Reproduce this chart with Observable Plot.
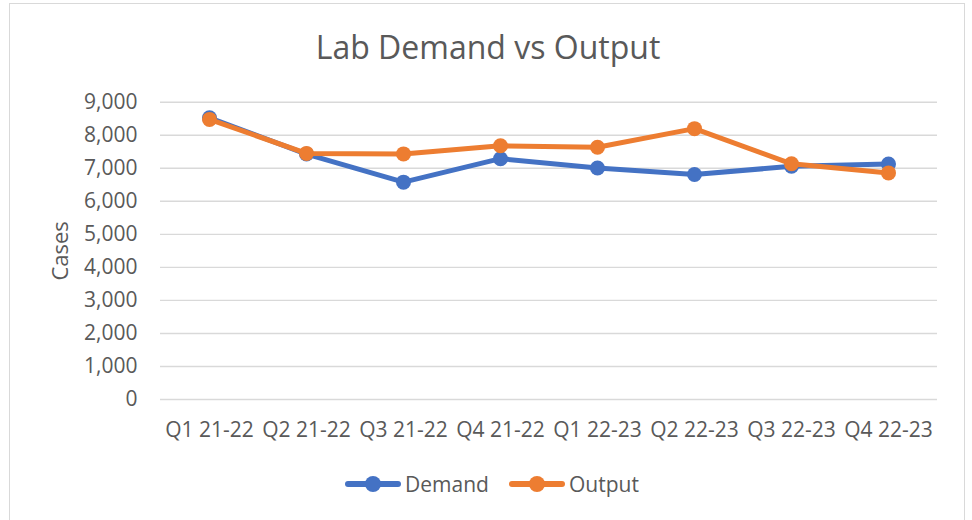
<!DOCTYPE html>
<html>
<head>
<meta charset="utf-8">
<script src="https://cdn.jsdelivr.net/npm/d3@7"></script>
<script src="https://cdn.jsdelivr.net/npm/@observablehq/plot@0.6"></script>
<style>
  html, body { margin: 0; padding: 0; background: #fff; }
  #wrap { position: relative; width: 972px; height: 520px; overflow: hidden; font-family: "Open Sans", sans-serif; color: #595959; }
  #border { position: absolute; left: 9px; top: 3px; width: 956px; height: 540px; border: 1.5px solid #d9d9d9; box-sizing: border-box; }
  #title { position: absolute; left: 0; width: 976px; top: 31px; text-align: center; font-size: 32px; line-height: 32px; white-space: nowrap; }
  #chart { position: absolute; left: 0; top: 90px; }
  #legend { position: absolute; top: 470px; left: 0; width: 972px; height: 28px; font-size: 21px; line-height: 28px; }
  .item { position: absolute; top: 0; display: flex; align-items: center; height: 28px; }
  .sw { position: relative; width: 56px; height: 28px; margin-right: 4px; }
  .sw .ln { position: absolute; left: 0; right: 0; top: 11px; height: 6px; border-radius: 3px; }
  .sw .dt { position: absolute; left: 20px; top: 6px; width: 16px; height: 16px; border-radius: 50%; }
</style>
</head>
<body>
<div id="wrap">
  <div id="border"></div>
  <div id="title">Lab Demand vs Output</div>
  <div id="chart"></div>
  <div id="legend"></div>
</div>
<script>
const quarters = ["Q1 21-22", "Q2 21-22", "Q3 21-22", "Q4 21-22", "Q1 22-23", "Q2 22-23", "Q3 22-23", "Q4 22-23"];
const demand = [8530, 7430, 6580, 7290, 7010, 6810, 7060, 7130];
const output = [8480, 7450, 7435, 7680, 7635, 8200, 7135, 6860];
const seriesNames = ["Demand", "Output"];
const seriesColors = ["#4472C4", "#ED7D31"];
const yTicks = [0, 1000, 2000, 3000, 4000, 5000, 6000, 7000, 8000, 9000];
const yLabel = "Cases";

const demandRows = quarters.map((q, i) => ({q, value: demand[i]}));
const outputRows = quarters.map((q, i) => ({q, value: output[i]}));

const chart = Plot.plot({
  width: 972,
  height: 370,
  marginLeft: 160,
  marginRight: 35,
  marginTop: 11.7,
  marginBottom: 61,
  style: {fontFamily: "Open Sans, sans-serif", fontSize: "21px", color: "#595959", background: "transparent", overflow: "visible"},
  x: {type: "point", domain: quarters, padding: 0.5, label: null},
  y: {domain: [0, 9000], label: null},
  marks: [
    Plot.gridY(yTicks, {stroke: "#d9d9d9", strokeOpacity: 1, strokeWidth: 1.4}),
    Plot.axisY(yTicks, {tickSize: 0, tickPadding: 23, tickFormat: d3.format(","), label: null, fill: "#595959"}),
    Plot.axisY(yTicks, {tickSize: 0, tickFormat: () => "", label: yLabel, labelArrow: "none", labelAnchor: "center", labelOffset: 108, fill: "#595959", fontSize: 22}),
    Plot.axisX({tickSize: 0, tickPadding: 23, label: null, fill: "#595959"}),
    Plot.lineY(demandRows, {x: "q", y: "value", stroke: seriesColors[0], strokeWidth: 5, strokeLinejoin: "round", strokeLinecap: "round"}),
    Plot.dot(demandRows, {x: "q", y: "value", r: 7.5, fill: seriesColors[0], stroke: null}),
    Plot.lineY(outputRows, {x: "q", y: "value", stroke: seriesColors[1], strokeWidth: 5, strokeLinejoin: "round", strokeLinecap: "round"}),
    Plot.dot(outputRows, {x: "q", y: "value", r: 7.5, fill: seriesColors[1], stroke: null})
  ]
});
document.getElementById("chart").appendChild(chart);

// Fallback: strip a trailing arrow if this Plot version ignores labelArrow
chart.querySelectorAll("text").forEach(t => {
  if (t.textContent.startsWith(yLabel) && t.textContent !== yLabel) t.textContent = yLabel;
});

const legend = document.getElementById("legend");
const lefts = [345, 509];
seriesNames.forEach((name, i) => {
  const item = document.createElement("div");
  item.className = "item";
  item.style.left = lefts[i] + "px";
  item.innerHTML = `<div class="sw"><div class="ln" style="background:${seriesColors[i]}"></div><div class="dt" style="background:${seriesColors[i]}"></div></div><span>${name}</span>`;
  legend.appendChild(item);
});
</script>
</body>
</html>
